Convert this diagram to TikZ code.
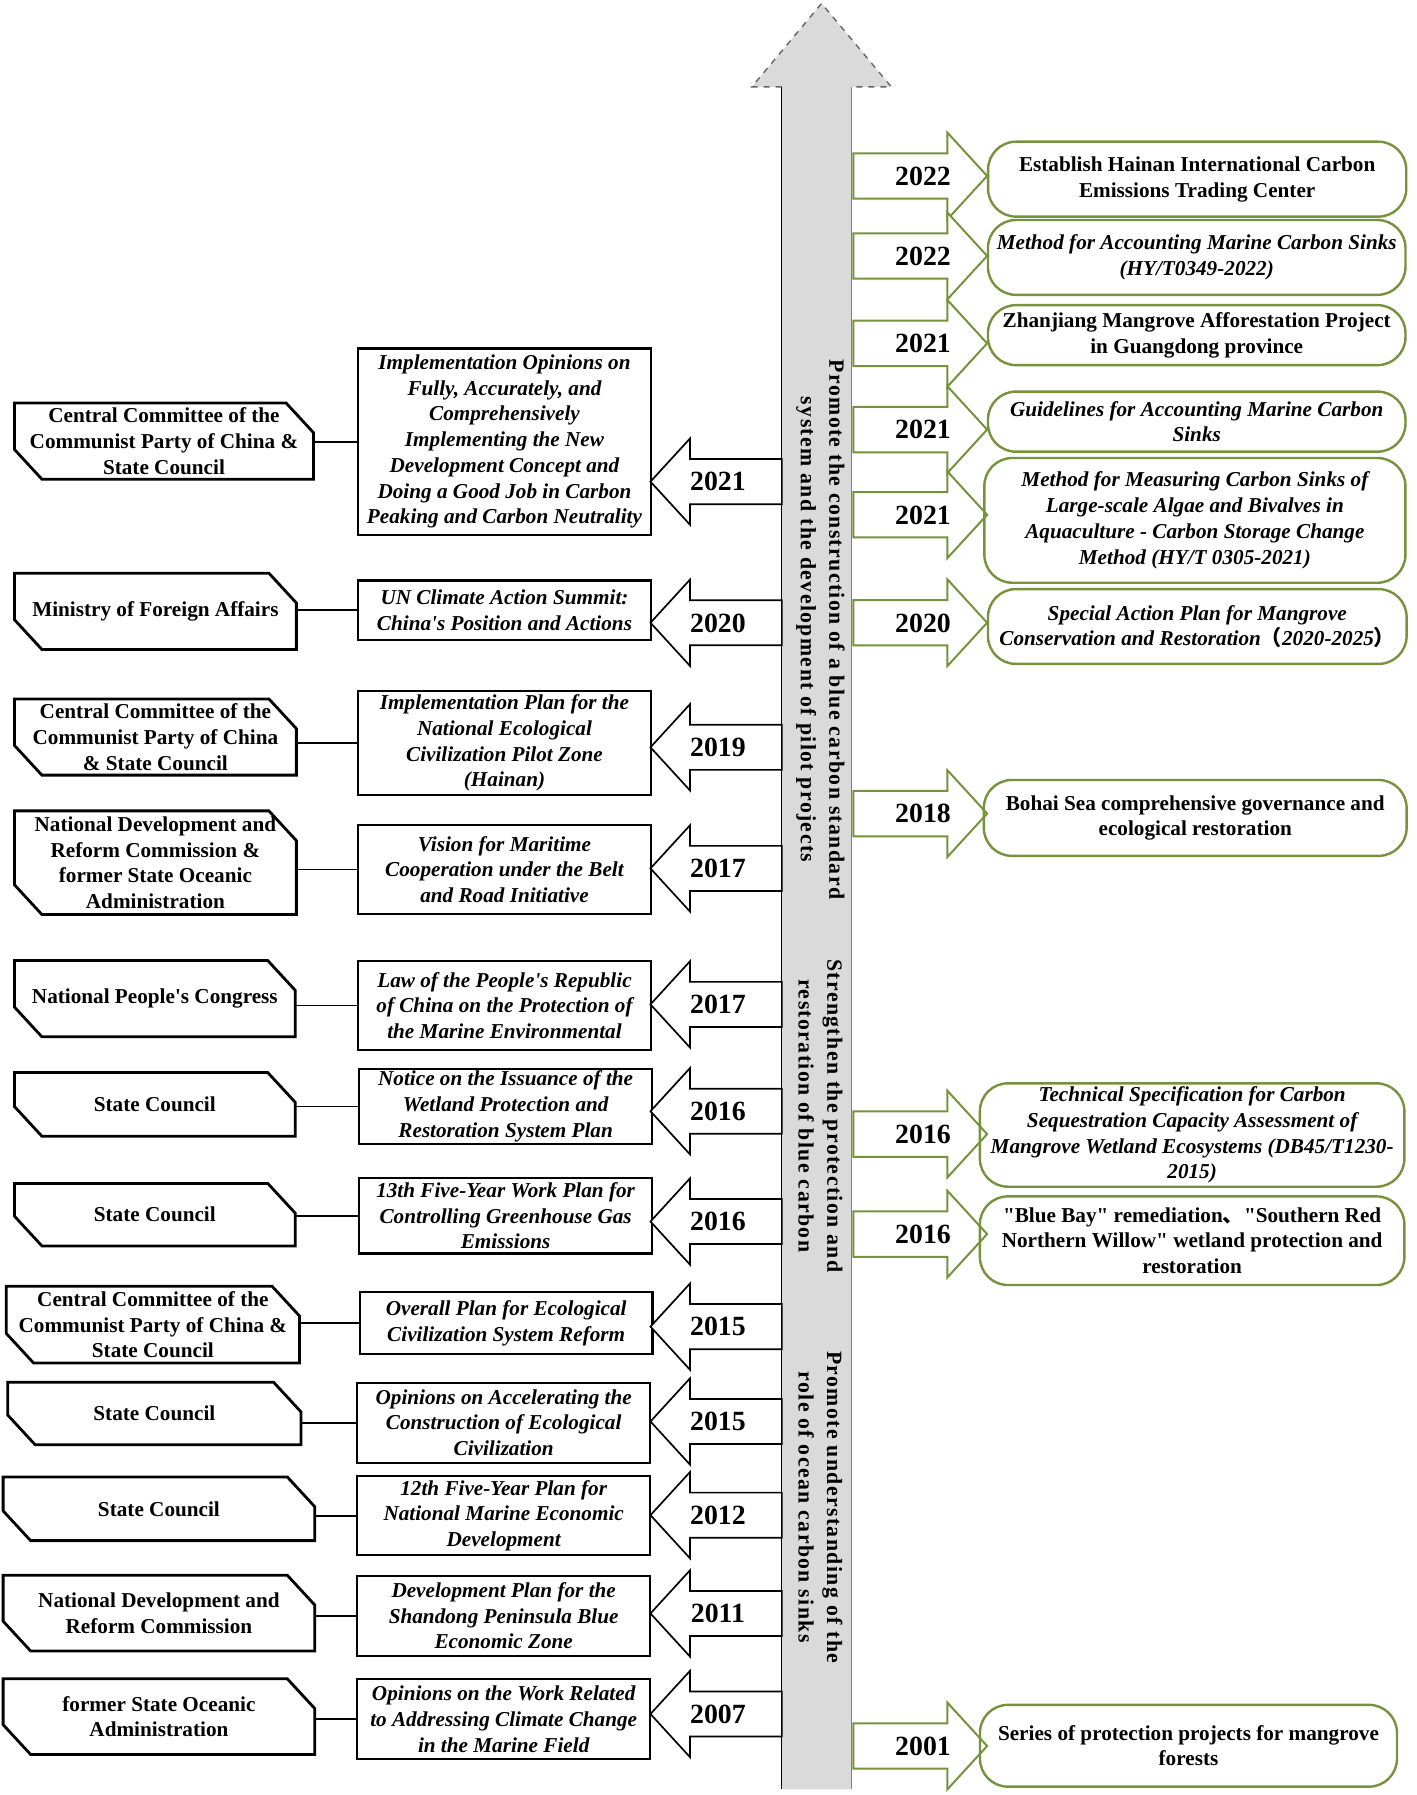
\documentclass[tikz,border=0pt]{standalone}
\usepackage{fontspec}
\setmainfont{Liberation Serif}[Ligatures=TeXOff]
\newfontfamily\cjk{Noto Sans CJK SC}
\newfontfamily\vfont[LetterSpace=6.4,Ligatures=TeXOff]{Liberation Serif}
\usetikzlibrary{shapes.misc,shapes.arrows}
\newlength{\pxu}
\setlength{\pxu}{0.571371pt}
\definecolor{Gruen}{RGB}{118,146,60}
\definecolor{Schaft}{RGB}{218,218,218}
\tikzstyle{Amt}= [rectangle,align=center,inner sep=1pt,font=\fontsize{10.6}{12.86}\selectfont\bfseries]
\tikzstyle{Fase}= [line width=1.4pt]
\tikzstyle{Plan}= [rectangle,draw,line width=1.1pt,align=center,inner sep=1pt,font=\fontsize{10.6}{12.86}\selectfont\bfseries\itshape]
\tikzstyle{Ziel}= [rectangle,rounded corners=14pt,draw=Gruen,line width=1.2pt,align=center,inner sep=1pt,font=\fontsize{10.6}{12.86}\selectfont\bfseries]
\tikzstyle{ZielK}= [Ziel,font=\fontsize{10.6}{12.86}\selectfont\bfseries\itshape]
\tikzstyle{Jahr}= [single arrow,draw,fill=white,line width=0.85pt,single arrow head extend=10.3pt,single arrow tip angle=95,single arrow head indent=0pt,minimum height=115\pxu,text height=9.3pt,text depth=0pt,inner ysep=6.2pt,inner xsep=0pt,font=\fontsize{13.9}{16}\selectfont\bfseries]
\tikzstyle{JahrL}= [Jahr,shape border rotate=180]
\tikzstyle{JahrR}= [Jahr,draw=Gruen,line width=1pt,minimum height=117\pxu]
\tikzstyle{Linie}= [line width=0.9pt]
\tikzstyle{Band}= [rotate=-90,align=center,inner sep=0pt,font=\fontsize{10.9}{14.3}\vfont\bfseries]
\newcommand{\jl}[1]{#1\hspace*{15\pxu}}
\newcommand{\jr}[1]{\hspace*{23\pxu}#1}

\begin{document}
\begin{tikzpicture}[x=\pxu,y=-\pxu]
\useasboundingbox (0,0) rectangle (1240,1570.9);

		% time axis
		\fill[Schaft] (684,1566) -- (684,76) -- (658,76) -- (719,3) -- (780,76) -- (745,76) -- (745,1566) -- cycle;
		\draw[dashed,gray!80!black,line width=0.7pt] (684,76) -- (658,76) -- (719,3) -- (780,76) -- (745,76);
		\draw[line width=0.6pt] (684,76) -- (684,1566);
		\draw[gray,line width=0.5pt] (745,76) -- (745,1566);

		\node [Band] (s1) at (718,551) {Promote the construction of a blue carbon standard\\system and the development of pilot projects};
		\node [Band] (s2) at (718,976.5) {Strengthen the protection and\\restoration of blue carbon};
		\node [Band] (s3) at (718,1319) {Promote understanding of the\\role of ocean carbon sinks};

		% left side
		\node [Amt,minimum width=261\pxu,minimum height=66\pxu] (a1) at (143.5,386) {Central Committee of the\\Communist Party of China \&\\State Council};
		\node [Plan,minimum width=257\pxu,minimum height=163\pxu] (p1) at (441.5,386.5) {Implementation Opinions on\\Fully, Accurately, and\\Comprehensively\\Implementing the New\\Development Concept and\\Doing a Good Job in Carbon\\Peaking and Carbon Neutrality};
		\node [JahrL,anchor=tail] (j1) at (685,421.5) {\jl{2021}};

		\node [Amt,minimum width=246\pxu,minimum height=66\pxu] (a2) at (136,535) {Ministry of Foreign Affairs};
		\node [Plan,minimum width=257\pxu,minimum height=52\pxu] (p2) at (441.5,534) {UN Climate Action Summit:\\China's Position and Actions};
		\node [JahrL,anchor=tail] (j2) at (685,545) {\jl{2020}};

		\node [Amt,minimum width=246\pxu,minimum height=66\pxu] (a3) at (136,645) {Central Committee of the\\Communist Party of China\\\& State Council};
		\node [Plan,minimum width=257\pxu,minimum height=91\pxu] (p3) at (441.5,650.2) {Implementation Plan for the\\National Ecological\\Civilization Pilot Zone\\(Hainan)};
		\node [JahrL,anchor=tail] (j3) at (685,654) {\jl{2019}};

		\node [Amt,minimum width=246\pxu,minimum height=90\pxu] (a4) at (136,755) {National Development and\\Reform Commission \&\\former State Oceanic\\Administration};
		\node [Plan,minimum width=257\pxu,minimum height=78\pxu] (p4) at (441.5,761) {Vision for Maritime\\Cooperation under the Belt\\and Road Initiative};
		\node [JahrL,anchor=tail] (j4) at (685,760) {\jl{2017}};

		\node [Amt,minimum width=245\pxu,minimum height=66\pxu] (a5) at (135.5,874) {National People's Congress};
		\node [Plan,minimum width=257\pxu,minimum height=78\pxu] (p5) at (441.5,880) {Law of the People's Republic\\of China on the Protection of\\the Marine Environmental};
		\node [JahrL,anchor=tail] (j5) at (685,879) {\jl{2017}};

		\node [Amt,minimum width=245\pxu,minimum height=55\pxu] (a6) at (135.5,966.5) {State Council};
		\node [Plan,minimum width=256\pxu,minimum height=65.5\pxu] (p6) at (442.5,968.3) {Notice on the Issuance of the\\Wetland Protection and\\Restoration System Plan};
		\node [JahrL,anchor=tail] (j6) at (685,972.5) {\jl{2016}};

		\node [Amt,minimum width=245\pxu,minimum height=54\pxu] (a7) at (135.5,1063) {State Council};
		\node [Plan,minimum width=256\pxu,minimum height=66\pxu] (p7) at (442.5,1064) {13th Five-Year Work Plan for\\Controlling Greenhouse Gas\\Emissions};
		\node [JahrL,anchor=tail] (j7) at (685,1069) {\jl{2016}};

		\node [Amt,minimum width=256\pxu,minimum height=66.5\pxu] (a8) at (133.8,1159.3) {Central Committee of the\\Communist Party of China \&\\State Council};
		\node [Plan,minimum width=256\pxu,minimum height=54\pxu] (p8) at (443,1158) {Overall Plan for Ecological\\Civilization System Reform};
		\node [JahrL,anchor=tail] (j8) at (685,1161) {\jl{2015}};

		\node [Amt,minimum width=256\pxu,minimum height=54\pxu] (a9) at (135.1,1237) {State Council};
		\node [Plan,minimum width=256.4\pxu,minimum height=70\pxu] (p9) at (440.8,1245) {Opinions on Accelerating the\\Construction of Ecological\\Civilization};
		\node [JahrL,anchor=tail] (j9) at (685,1244) {\jl{2015}};

		\node [Amt,minimum width=272\pxu,minimum height=55\pxu] (a10) at (139.1,1320.4) {State Council};
		\node [Plan,minimum width=256.4\pxu,minimum height=69\pxu] (p10) at (440.8,1326.5) {12th Five-Year Plan for\\National Marine Economic\\Development};
		\node [JahrL,anchor=tail] (j10) at (685,1326) {\jl{2012}};

		\node [Amt,minimum width=272\pxu,minimum height=65.5\pxu] (a11) at (139.1,1411.7) {National Development and\\Reform Commission};
		\node [Plan,minimum width=256.4\pxu,minimum height=70\pxu] (p11) at (440.8,1414) {Development Plan for the\\Shandong Peninsula Blue\\Economic Zone};
		\node [JahrL,anchor=tail] (j11) at (685,1412) {\jl{2011}};

		\node [Amt,minimum width=272\pxu,minimum height=65.5\pxu] (a12) at (139.1,1502.3) {former State Oceanic\\Administration};
		\node [Plan,minimum width=256.4\pxu,minimum height=70\pxu] (p12) at (440.8,1504.5) {Opinions on the Work Related\\to Addressing Climate Change\\in the Marine Field};
		\node [JahrL,anchor=tail] (j12) at (685,1500) {\jl{2007}};

		% outline of the authorities, two corners cut
		\foreach \n in {1,...,12}
		\draw[Fase] (a\n.north west) -- ([xshift=-24\pxu]a\n.north east) -- ([yshift=-26\pxu]a\n.north east) -- (a\n.south east) -- ([xshift=24\pxu]a\n.south west) -- ([yshift=26\pxu]a\n.south west) -- cycle;

		\foreach \n in {1,...,12}
		\draw [Linie] (p\n.west) -- (p\n.west -| a\n.east);

		% right side
		\node [JahrR,anchor=tail] (k1) at (746,154) {\jr{2022}};
		\node [JahrR,anchor=tail] (k2) at (746,224) {\jr{2022}};
		\node [JahrR,anchor=tail] (k3) at (746,300.5) {\jr{2021}};
		\node [JahrR,anchor=tail] (k4) at (746,376) {\jr{2021}};
		\node [JahrR,anchor=tail] (k5) at (746,450.5) {\jr{2021}};
		\node [JahrR,anchor=tail] (k6) at (746,545) {\jr{2020}};
		\node [JahrR,anchor=tail] (k7) at (746,712) {\jr{2018}};
		\node [JahrR,anchor=tail] (k8) at (746,992.5) {\jr{2016}};
		\node [JahrR,anchor=tail] (k9) at (746,1080) {\jr{2016}};
		\node [JahrR,anchor=tail] (k10) at (746,1528) {\jr{2001}};

		\node [Ziel,minimum width=366\pxu,minimum height=65.6\pxu] (r1) at (1047.7,156.8) {Establish Hainan International Carbon\\Emissions Trading Center};
		\node [ZielK,minimum width=365.4\pxu,minimum height=65.5\pxu] (r2) at (1047.3,225.3) {Method for Accounting Marine Carbon Sinks\\(HY/T0349-2022)};
		\node [Ziel,minimum width=365.4\pxu,minimum height=52.5\pxu] (r3) at (1047.3,293.3) {Zhanjiang Mangrove Afforestation Project\\in Guangdong province};
		\node [ZielK,minimum width=365.4\pxu,minimum height=52.6\pxu] (r4) at (1047.3,369) {Guidelines for Accounting Marine Carbon\\Sinks};
		\node [ZielK,minimum width=368.5\pxu,minimum height=109.2\pxu] (r5) at (1045.7,455.4) {Method for Measuring Carbon Sinks of\\Large-scale Algae and Bivalves in\\Aquaculture - Carbon Storage Change\\Method (HY/T 0305-2021)};
		\node [ZielK,minimum width=366.4\pxu,minimum height=65.5\pxu] (r6) at (1047.8,548.3) {Special Action Plan for Mangrove\\Conservation and Restoration{\cjk （}2020-2025{\cjk ）}};
		\node [Ziel,minimum width=370\pxu,minimum height=66.4\pxu] (r7) at (1046,715.8) {Bohai Sea comprehensive governance and\\ecological restoration};
		\node [ZielK,minimum width=371.5\pxu,minimum height=90.5\pxu] (r8) at (1043.3,993.3) {Technical Specification for Carbon\\Sequestration Capacity Assessment of\\Mangrove Wetland Ecosystems (DB45/T1230-\\2015)};
		\node [Ziel,minimum width=371.5\pxu,minimum height=77.6\pxu] (r9) at (1043.3,1085.8) {"Blue Bay" remediation{\cjk 、}"Southern Red\\Northern Willow" wetland protection and\\restoration};
		\node [Ziel,minimum width=365\pxu,minimum height=71.6\pxu] (r10) at (1040.1,1527.8) {Series of protection projects for mangrove\\forests};

\end{tikzpicture}
\end{document}
